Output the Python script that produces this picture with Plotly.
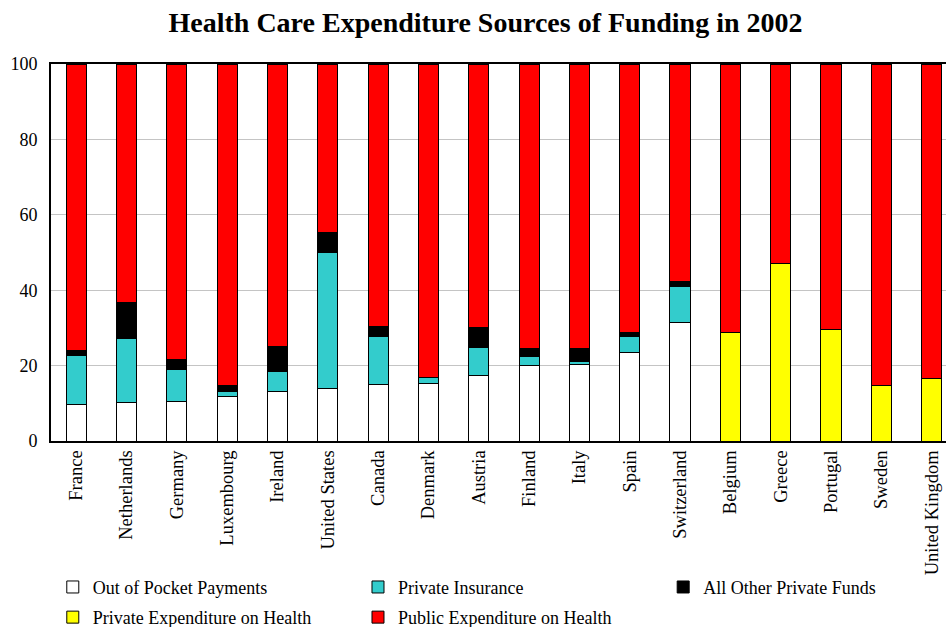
import plotly.graph_objects as go

countries = ["France", "Netherlands", "Germany", "Luxembourg", "Ireland",
             "United States", "Canada", "Denmark", "Austria", "Finland",
             "Italy", "Spain", "Switzerland", "Belgium", "Greece", "Portugal",
             "Sweden", "United Kingdom"]

# Percent of total health expenditure, 2002
out_of_pocket = [9.8, 10.1, 10.4, 11.9, 13.2, 14.0, 15.1, 15.3, 17.5, 20.0,
                 20.4, 23.6, 31.5, None, None, None, None, None]
private_insurance = [13.0, 17.0, 8.6, 1.3, 5.2, 36.1, 12.7, 1.6, 7.3, 2.3,
                     0.6, 4.0, 9.4, None, None, None, None, None]
other_private = [1.3, 9.7, 2.7, 1.5, 6.6, 5.1, 2.5, 0.0, 5.4, 2.3,
                 3.6, 1.1, 1.3, None, None, None, None, None]
private_total = [None, None, None, None, None, None, None, None, None, None,
                 None, None, None, 28.8, 47.1, 29.5, 14.6, 16.6]
public = [75.9, 63.2, 78.3, 85.3, 75.0, 44.8, 69.7, 83.1, 69.8, 75.4,
          75.4, 71.3, 57.8, 71.2, 52.9, 70.5, 85.4, 83.4]

FONT = "Liberation Serif, Times New Roman, serif"

series = [
    ("Out of Pocket Payments", out_of_pocket, "#FFFFFF", "legend", 0.002, -0.388),
    ("Private Insurance", private_insurance, "#33CCCC", "legend2", 0.343, -0.388),
    ("All Other Private Funds", other_private, "#000000", "legend3", 0.684, -0.388),
    ("Private Expenditure on Health", private_total, "#FFFF00", "legend4", 0.002, -0.468),
    ("Public Expenditure on Health", public, "#FF0000", "legend5", 0.343, -0.468),
]

fig = go.Figure()
legend_layouts = {}
for name, vals, color, leg, lx, ly in series:
    fig.add_trace(go.Bar(
        x=countries, y=vals, name=name, width=0.4,
        marker=dict(color=color, line=dict(color="#000000", width=1)),
        legend=leg,
    ))
    legend_layouts[leg] = dict(
        x=lx, y=ly, xanchor="left", yanchor="middle",
        font=dict(family=FONT, size=18, color="#000000"),
        bgcolor="rgba(0,0,0,0)", itemwidth=30,
    )

fig.update_layout(
    width=946, height=627,
    barmode="stack",
    paper_bgcolor="#FFFFFF", plot_bgcolor="#FFFFFF",
    margin=dict(l=51, r=0, t=64, b=186, pad=0, autoexpand=False),
    font=dict(family=FONT, size=18, color="#000000"),
    title=dict(
        text="<b>Health Care Expenditure Sources of Funding in 2002</b>",
        x=485.5 / 946, xref="container", xanchor="center",
        y=1 - 22 / 627, yref="container", yanchor="middle",
        font=dict(family=FONT, size=28, color="#000000"),
    ),
    showlegend=True,
    **legend_layouts,
)

fig.update_xaxes(
    range=[-0.5, 17.285],
    tickangle=-90, automargin=False,
    tickfont=dict(family=FONT, size=18.5, color="#000000"),
    showline=True, linecolor="#000000", linewidth=2, mirror=True,
    ticks="", showgrid=False,
)
fig.update_yaxes(
    range=[0, 100], tickvals=[0, 20, 40, 60, 80, 100], automargin=False,
    tickfont=dict(family=FONT, size=18, color="#000000"),
    ticklabelstandoff=8,
    showline=True, linecolor="#000000", linewidth=2,
    showgrid=True, gridcolor="#C4C4C4", gridwidth=1,
    ticks="", zeroline=False,
)

fig.write_html("out.html")
